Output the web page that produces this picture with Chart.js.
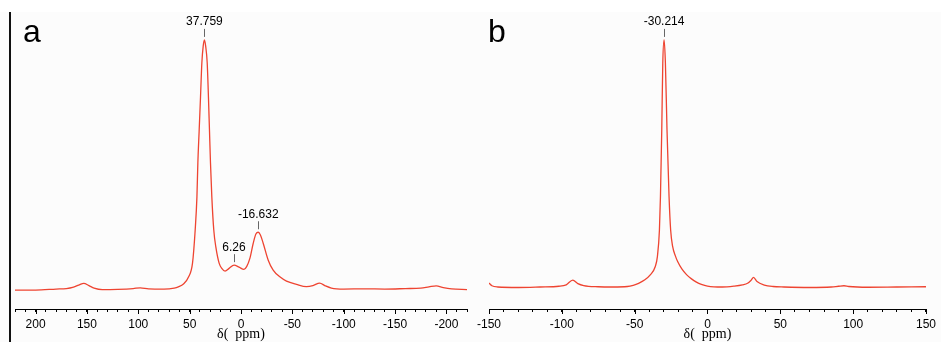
<!DOCTYPE html>
<html>
<head>
<meta charset="utf-8">
<script src="https://cdn.jsdelivr.net/npm/chart.js@4.4.1/dist/chart.umd.min.js"></script>
<style>
  html, body { margin: 0; padding: 0; background: #fff; }
  #wrap { position: relative; width: 941px; height: 342px; overflow: hidden;
          background: linear-gradient(#fff 0, #fff 12px, #fcfcfc 12px); }
  #wrap canvas { position: absolute; top: 0; }
  #edge { position: absolute; left: 9px; top: 12px; width: 1.5px; height: 330px; background: #111; }
</style>
</head>
<body>
<div id="wrap">
  <div id="edge"></div>
  <canvas id="chartA" width="462" height="342" style="left:10px"></canvas>
  <canvas id="chartB" width="469" height="342" style="left:472px"></canvas>
</div>
<script>
// panel a: chemical shift (ppm) and intensity
const ppmA = [220, 200, 180, 170, 163, 158, 153, 148, 143, 135, 120, 105, 98, 90, 75, 65, 61, 56,
  51.1, 47.2, 44.6, 42.9, 42.0, 40.7, 39.4, 38.1, 36.8, 35.6, 34.4, 32.9, 31.7, 30.7, 29.7, 28.4,
  26.5, 24.5, 21.3, 18.5, 15.5, 11.6, 6.8, 1.9, -2.9, -5.5, -8.7, -11.9, -14.5, -16.8, -18.9, -21.6,
  -26.5, -31.3, -37.8, -44.3, -54, -63.7, -70, -76.6, -82, -88, -100, -120, -140, -160, -175, -183,
  -190, -197, -205, -220];
const intA = [-0.4, -0.4, 0, 0.2, 0.8, 1.6, 2.3, 1.4, 0.4, -0.2, -0.1, 0.2, 0.5, 0.1, 0, 0.4, 0.9, 2.0,
  4.8, 10.4, 23.7, 37, 50.6, 63.9, 77.2, 90.8, 97.5, 100, 97.5, 90.8, 77.2, 63.9, 50.6, 37,
  23.7, 16.9, 10.4, 8.2, 7.2, 8.3, 9.6, 8.8, 7.9, 9.0, 12.4, 18.4, 22.1, 22.8, 21.7, 18.4,
  11.6, 7.6, 4.9, 3.2, 1.9, 1.0, 1.4, 2.4, 1.3, 0.4, 0, 0.1, 0, 0.2, 0.4, 0.9,
  1.3, 0.6, 0.1, -0.2];
const peakPpmA = [35.6, 6.8, -16.8];
const peakTextA = ['37.759', '6.26', '-16.632'];

// panel b
const ppmB = [-150, -148, -144, -130, -115, -102, -97, -92.5, -89, -85, -75, -65, -55, -51, -47.3, -43,
  -39.3, -35.9, -34.4, -33.0, -32.3, -31.4, -30.7, -29.8, -28.9, -27.8, -26.4, -25.3, -23.9, -22,
  -20.5, -17.5, -14.4, -11, -7.6, -4.2, 0, 10, 18.5, 24, 27.5, 30, 31.6, 34, 39, 45, 52.5, 70, 85, 90,
  93.7, 97, 110, 130, 150];
const intB = [1.6, 0.5, 0, -0.2, 0, 0.3, 0.9, 2.8, 1.4, 0.6, 0.1, 0, 0.2, 0.7, 1.5, 2.9,
  4.9, 8.2, 12.3, 23.1, 36.6, 63.6, 90.6, 100, 90.6, 63.6, 36.6, 23.1, 16.3, 12.5,
  10.3, 7.2, 5.0, 3.3, 2.0, 1.1, 0.4, 0, 0.4, 0.9, 1.5, 2.8, 3.9, 2.2, 0.8, 0.2, 0, -0.2, 0, 0.3,
  0.5, 0.2, -0.1, 0, 0.1];
const peakPpmB = [-29.8];
const peakTextB = ['-30.214'];

const lineColor = '#ee4431';
const sans = '"Liberation Sans", Arial, sans-serif';

const peakLabels = {
  id: 'peakLabels',
  afterDatasetsDraw(chart, args, opts) {
    const ctx = chart.ctx, x = chart.scales.x, y = chart.scales.y;
    const data = chart.data.datasets[0].data;
    ctx.save();
    opts.ppm.forEach((p, i) => {
      const pt = data.find(d => d.x === p);
      const px = x.getPixelForValue(pt.x), py = y.getPixelForValue(pt.y);
      ctx.strokeStyle = '#666';
      ctx.lineWidth = 1;
      ctx.beginPath();
      ctx.moveTo(Math.round(px) + 0.5, py - 3);
      ctx.lineTo(Math.round(px) + 0.5, py - 11);
      ctx.stroke();
      ctx.fillStyle = '#000';
      ctx.font = '12px ' + sans;
      ctx.textAlign = 'center';
      ctx.textBaseline = 'alphabetic';
      ctx.fillText(opts.text[i], px, py - 14.5);
    });
    // panel letter
    ctx.font = '32px ' + sans;
    ctx.textAlign = 'left';
    ctx.fillStyle = '#000';
    ctx.fillText(opts.letter, opts.letterX, 42);
    // longer ticks every 50 ppm
    ctx.strokeStyle = '#000';
    x.ticks.forEach(t => {
      if (t.value % 50 !== 0) return;
      const px = Math.round(x.getPixelForValue(t.value)) + 0.5;
      ctx.beginPath();
      ctx.moveTo(px, x.top);
      ctx.lineTo(px, x.top + 5);
      ctx.stroke();
    });
    ctx.restore();
  }
};

function makeChart(id, ppm, inten, xmin, xmax, reverse, ymin, ymax, pad, peaks, texts, letter, letterX) {
  return new Chart(document.getElementById(id), {
    type: 'line',
    data: {
      datasets: [{
        data: ppm.map((p, i) => ({ x: p, y: inten[i] })),
        borderColor: lineColor,
        borderWidth: 1.3,
        pointRadius: 0,
        cubicInterpolationMode: 'monotone',
        fill: false
      }]
    },
    options: {
      responsive: false,
      animation: false,
      devicePixelRatio: 1,
      layout: { padding: pad },
      plugins: {
        legend: { display: false },
        tooltip: { enabled: false },
        peakLabels: { ppm: peaks, text: texts, letter: letter, letterX: letterX }
      },
      scales: {
        x: {
          type: 'linear',
          min: xmin,
          max: xmax,
          reverse: reverse,
          afterFit: s => { s.height = 33; },
          border: { display: true, color: '#000', width: 1 },
          grid: { drawOnChartArea: false, drawTicks: true, tickLength: 3, tickColor: '#000' },
          ticks: {
            stepSize: 10,
            autoSkip: false,
            maxRotation: 0,
            padding: 5,
            color: '#000',
            font: { family: sans, size: 12 },
            callback: v => (v % 50 === 0 ? String(v) : '')
          },
          title: {
            display: true,
            text: 'δ(  ppm)',
            color: '#000',
            font: { family: '"Liberation Serif", "Times New Roman", serif', size: 14 },
            padding: { top: 0, bottom: -1 }
          }
        },
        y: { display: false, min: ymin, max: ymax }
      }
    },
    plugins: [peakLabels]
  });
}

makeChart('chartA', ppmA, intA, -220, 220, true, -8, 111.2,
  { left: 4, right: 4, top: 12, bottom: 0 }, peakPpmA, peakTextA, 'a', 13);
makeChart('chartB', ppmB, intB, -150, 150, false, -8.9, 111.3,
  { left: 17, right: 11, top: 12, bottom: 0 }, peakPpmB, peakTextB, 'b', 16);
</script>
</body>
</html>
